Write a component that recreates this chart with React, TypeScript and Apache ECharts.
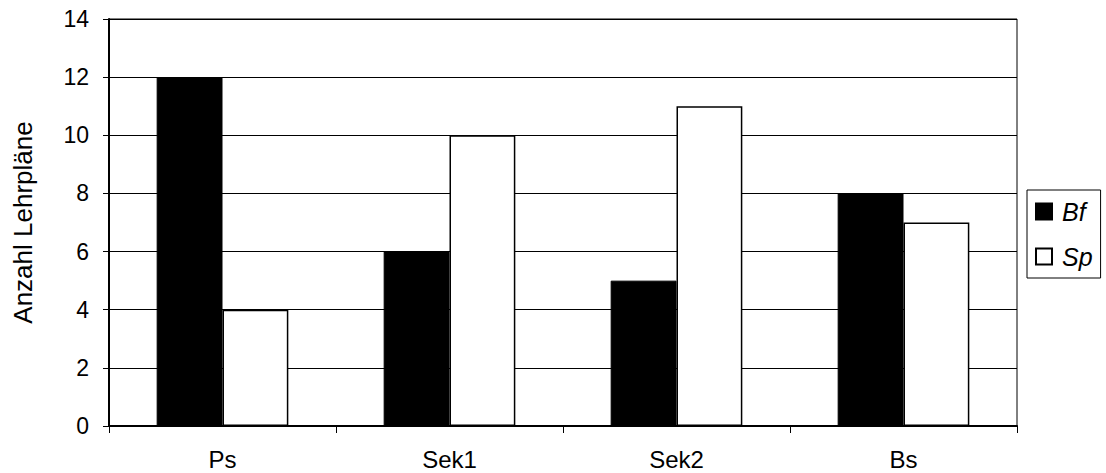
import React, { useEffect, useRef } from "react";
import * as echarts from "echarts";

const categories = ["Ps", "Sek1", "Sek2", "Bs"];
const bfValues = [12, 6, 5, 8];
const spValues = [4, 10, 11, 7];
const yAxisName = "Anzahl Lehrpläne";

export default function App() {
  const ref = useRef<HTMLDivElement>(null);
  useEffect(() => {
    if (!ref.current) return;
    const chart = echarts.init(ref.current, null, { renderer: "svg" });
    const font = "Liberation Sans, Arial, sans-serif";
    chart.setOption({
      animation: false,
      backgroundColor: "#fff",
      textStyle: { fontFamily: font },
      grid: {
        left: 109,
        top: 19,
        right: 89,
        bottom: 47,
        show: true,
        borderColor: "#000",
        borderWidth: 1,
      },
      legend: {
        orient: "vertical",
        left: 1027,
        top: 190,
        width: 71,
        padding: [9, 8, 9, 8],
        borderColor: "#000",
        borderWidth: 1,
        itemWidth: 16,
        itemHeight: 16,
        itemGap: 20,
        icon: "rect",
        textStyle: {
          fontSize: 25,
          lineHeight: 24,
          fontStyle: "italic",
          color: "#000",
          fontFamily: font,
          padding: [0, 0, 0, 5],
        },
        data: ["Bf", "Sp"],
      },
      xAxis: {
        type: "category",
        data: categories,
        axisLine: { lineStyle: { color: "#000", width: 2 } },
        axisTick: { show: true, length: 7, lineStyle: { color: "#000" } },
        axisLabel: { color: "#000", fontSize: 24, margin: 21, fontFamily: font },
      },
      yAxis: {
        type: "value",
        min: 0,
        max: 14,
        interval: 2,
        name: yAxisName,
        nameLocation: "middle",
        nameGap: 73,
        nameTextStyle: { color: "#000", fontSize: 26, fontFamily: font },
        axisLine: { show: true, lineStyle: { color: "#000", width: 2 } },
        axisTick: { show: true, length: 6, lineStyle: { color: "#000" } },
        axisLabel: { color: "#000", fontSize: 23, margin: 20, fontFamily: font },
        splitLine: { show: true, lineStyle: { color: "#000", width: 1 } },
      },
      series: [
        {
          name: "Bf",
          type: "bar",
          data: bfValues,
          barGap: "0%",
          barCategoryGap: "42%",
          itemStyle: { color: "#000", borderColor: "#000", borderWidth: 1 },
        },
        {
          name: "Sp",
          type: "bar",
          data: spValues,
          itemStyle: { color: "#fff", borderColor: "#000", borderWidth: 1.5 },
        },
      ],
    });
    return () => chart.dispose();
  }, []);
  return (
    <div
      ref={ref}
      style={{ position: "fixed", left: 0, top: 0, width: 1106, height: 473 }}
    />
  );
}
